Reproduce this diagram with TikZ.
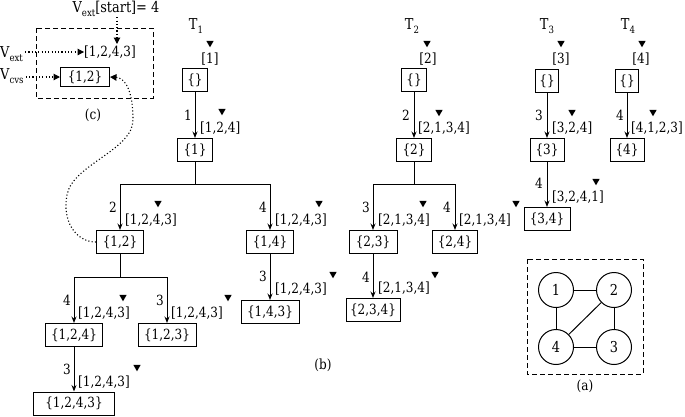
\documentclass[tikz,border=0pt]{standalone}
\usepackage{fontspec}
\setmainfont{DejaVu Serif}[FakeStretch=0.86]
\usetikzlibrary{arrows.meta,shapes.geometric}
\newcommand\mysub[1]{\raisebox{-4.5pt}{\fontsize{10}{10}\selectfont #1}}
\begin{document}
\begin{tikzpicture}[x=1pt,y=-1pt,
  font=\fontsize{14}{16}\selectfont,
  bx/.style={draw, line width=1pt, minimum height=23pt, minimum width=#1, inner sep=1pt},
  lst/.style={anchor=west, inner sep=0pt},
  num/.style={anchor=east, inner sep=0pt},
  ttl/.style={inner sep=0pt, font=\fontsize{15}{17}\selectfont},
  ptr/.style={regular polygon, regular polygon sides=3, shape border rotate=180, fill, inner sep=0pt, minimum size=8.5pt},
  arr/.style={-{Stealth[length=6.5pt,width=5pt]}, line width=1pt},
  ln/.style={line width=1pt},
  dotarr/.style={dash pattern=on 1.1pt off 2.2pt, line width=1.1pt, -{Triangle[length=6.5pt,width=6.5pt]}},
  dsh/.style={dash pattern=on 5pt off 3pt, line width=1pt},
  vtx/.style={circle, draw, line width=1pt, minimum size=35pt, inner sep=0pt, font=\fontsize{15}{17}\selectfont}
]
\useasboundingbox (0,0) rectangle (685,416);

% ---------- titles and initial lists
\node[ttl] (t1) at (196,26) {T\mysub{1}};
\node[ttl] (t2) at (412,26) {T\mysub{2}};
\node[ttl] (t3) at (547,26) {T\mysub{3}};
\node[ttl] (t4) at (628,26) {T\mysub{4}};
\node[ptr] (p1) at (210,43) {};
\node[ptr] (p2) at (427,43) {};
\node[ptr] (p3) at (561,43) {};
\node[ptr] (p4) at (642,43) {};
\node[inner sep=0pt] (l1) at (210,59) {[1]};
\node[inner sep=0pt] (l2) at (428,59) {[2]};
\node[inner sep=0pt] (l3) at (561,59) {[3]};
\node[inner sep=0pt] (l4) at (641,59) {[4]};

% ---------- T1
\node[bx=25pt] (r1) at (195,80) {\{\}};
\node[bx=35pt] (n1) at (195,150) {\{1\}};
\draw[arr] (r1) -- (n1);
\node[num] (e1) at (192,115) {1};
\node[lst] (a1) at (200,128) {[1,2,4]};
\node[ptr] (q1) at (222,111) {};

\node[bx=47pt] (n12) at (120,242) {\{1,2\}};
\node[bx=47pt] (n14) at (270,242) {\{1,4\}};
\coordinate (b1) at (195,184);
\draw[ln] (n1) -- (b1);
\draw[arr] (b1) -| (n12);
\draw[arr] (b1) -| (n14);
\node[num] (e12) at (117,207) {2};
\node[lst] (a12) at (125,220) {[1,2,4,3]};
\node[ptr] (q12) at (158,203) {};
\node[num] (e14) at (267,207) {4};
\node[lst] (a14) at (275,220) {[1,2,4,3]};
\node[ptr] (q14) at (319,203) {};

\node[bx=57pt] (n124) at (74,335) {\{1,2,4\}};
\node[bx=58pt] (n123) at (167,335) {\{1,2,3\}};
\coordinate (b12) at (120,277);
\draw[ln] (n12) -- (b12);
\draw[arr] (b12) -| (n124);
\draw[arr] (b12) -| (n123);
\node[num] (e124) at (71,300) {4};
\node[lst] (a124) at (78,313) {[1,2,4,3]};
\node[ptr] (q124) at (123,297) {};
\node[num] (e123) at (164,300) {3};
\node[lst] (a123) at (171,313) {[1,2,4,3]};
\node[ptr] (q123) at (228,297) {};

\node[bx=58pt] (n143) at (270,312) {\{1,4,3\}};
\draw[arr] (n14) -- (n143);
\node[num] (e143) at (267,276) {3};
\node[lst] (a143) at (275,289) {[1,2,4,3]};
\node[ptr] (q143) at (333,274) {};

\node[bx=81pt] (n1243) at (74,403.5) {\{1,2,4,3\}};
\draw[arr] (n124) -- (n1243);
\node[num] (e1243) at (71,369) {3};
\node[lst] (a1243) at (78,382) {[1,2,4,3]};
\node[ptr] (q1243) at (137,367) {};

\node (lb) at (323,365) {(b)};

% ---------- T2
\node[bx=25pt] (r2) at (414,80) {\{\}};
\node[bx=35pt] (n2) at (414,150) {\{2\}};
\draw[arr] (r2) -- (n2);
\node[num] (e2) at (410,115) {2};
\node[lst] (a2) at (418,128) {[2,1,3,4]};
\node[ptr] (q2) at (439,112) {};

\node[bx=48pt] (n23) at (373,242) {\{2,3\}};
\node[bx=45pt] (n24) at (455,242) {\{2,4\}};
\coordinate (b2) at (414,184);
\draw[ln] (n2) -- (b2);
\draw[arr] (b2) -| (n23);
\draw[arr] (b2) -| (n24);
\node[num] (e23) at (370,207) {3};
\node[lst] (a23) at (378,220) {[2,1,3,4]};
\node[ptr] (q23) at (423,203) {};
\node[num] (e24) at (451,207) {4};
\node[lst] (a24) at (459,220) {[2,1,3,4]};
\node[ptr] (q24) at (516,203) {};

\node[bx=54pt] (n234) at (373,310) {\{2,3,4\}};
\draw[arr] (n23) -- (n234);
\node[num] (e234) at (370,277) {4};
\node[lst] (a234) at (378,288) {[2,1,3,4]};
\node[ptr] (q234) at (435,274) {};

% ---------- T3
\node[bx=23pt] (r3) at (547,81) {\{\}};
\node[bx=34pt] (n3) at (547,150) {\{3\}};
\draw[arr] (r3) -- (n3);
\node[num] (e3) at (543,115) {3};
\node[lst] (a3) at (552,128) {[3,2,4]};
\node[ptr] (q3) at (572,112) {};
\node[bx=46pt] (n34) at (547,219) {\{3,4\}};
\draw[arr] (n3) -- (n34);
\node[num] (e34) at (543,183) {4};
\node[lst] (a34) at (552,197) {[3,2,4,1]};
\node[ptr] (q34) at (596,181) {};

% ---------- T4
\node[bx=23pt] (r4) at (627,81) {\{\}};
\node[bx=34pt] (n4) at (627,150) {\{4\}};
\draw[arr] (r4) -- (n4);
\node[num] (e4) at (624,115) {4};
\node[lst] (a4) at (631,128) {[4,1,2,3]};
\node[ptr] (q4) at (653,112) {};

% ---------- (c)
\draw[dsh] (36,28) rectangle (153,98);
\node[inner sep=0pt, font=\fontsize{15}{17}\selectfont] (vs) at (116,9) {V\mysub{ext}[start]= 4};
\node[inner sep=0pt] (cl) at (110,52) {[1,2,4,3]};
\node[bx=49pt, minimum height=19pt] (c12) at (85,77) {\{1,2\}};
\node[anchor=base west, inner sep=0pt, font=\fontsize{15}{17}\selectfont] (ve) at (0,57) {V\mysub{ext}};
\node[anchor=base west, inner sep=0pt, font=\fontsize{15}{17}\selectfont] (vc) at (0,79) {V\mysub{cvs}};
\coordinate (k4) at (117,44);
\draw[dotarr] (vs.south -| k4) -- (k4);
\draw[dotarr] (ve.east |- cl) ++(2,0) -- (cl.west);
\draw[dotarr] (vc.east |- c12) ++(2,0) -- (c12.west);
\node (lc) at (93,115) {(c)};
\draw[dotarr] (n12.west) .. controls (75,242) and (62,220) .. (67,195)
   .. controls (72,165) and (133,150) .. (133,120)
   .. controls (133,90) and (125,78) .. (c12.east);

% ---------- (a)
\draw[dsh] (527,259) rectangle (643,374);
\node[vtx] (g1) at (556,290) {1};
\node[vtx] (g2) at (614,290) {2};
\node[vtx] (g4) at (556,347) {4};
\node[vtx] (g3) at (614,347) {3};
\draw[ln] (g1) -- (g2);
\draw[ln] (g1) -- (g4);
\draw[ln] (g2) -- (g4);
\draw[ln] (g2) -- (g3);
\draw[ln] (g4) -- (g3);
\node (la) at (585,386) {(a)};
\end{tikzpicture}
\end{document}
